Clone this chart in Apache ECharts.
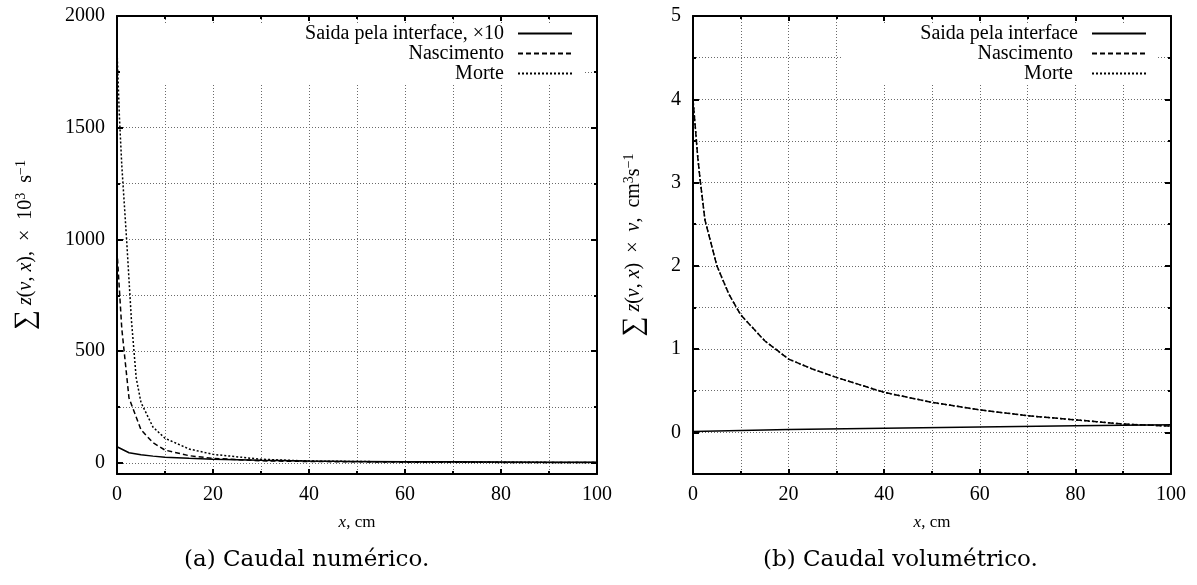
<!DOCTYPE html>
<html><head><meta charset="utf-8">
<script src="https://cdn.jsdelivr.net/npm/echarts@6/dist/echarts.min.js"></script>
<style>html,body{margin:0;padding:0;background:#fff}#c{width:1197px;height:585px}</style>
</head><body><div id="c"></div>
<script>
// ---- data: (a) Caudal numérico ----
const xSaidaA = [0, 2.5, 5, 7.5, 10, 15, 20, 30, 40, 50, 60, 70, 80, 90, 100];
const saidaA  = [72, 45, 36, 30, 25, 20, 16, 11, 8, 6.5, 5.3, 4.5, 3.8, 3, 2.3];
const xNascA  = [0, 1, 2.5, 5, 7.5, 10, 15, 20, 30, 40, 60, 80, 100];
const nascA   = [950, 600, 290, 148, 90, 57, 32, 20, 9, 6, 3, 2, 1.5];
const xMorteA = [0, 0.5, 1, 2, 2.5, 3, 4, 5, 7.5, 10, 15, 20, 30, 40, 60, 80, 100];
const morteA  = [1850, 1550, 1330, 1000, 820, 640, 380, 270, 160, 110, 62, 38, 16, 8, 4, 2.5, 1.5];
// ---- data: (b) Caudal volumétrico ----
const xSaidaB = [0, 20, 40, 60, 80, 100];
const saidaB  = [0.01, 0.035, 0.05, 0.065, 0.078, 0.09];
const xNascB  = [0, 0.5, 1, 1.5, 2.5, 5, 7.5, 10, 15, 20, 25, 30, 40, 50, 60, 70, 80, 90, 100];
const nascB   = [4.0, 3.65, 3.3, 3.03, 2.55, 2.0, 1.66, 1.41, 1.1, 0.88, 0.76, 0.66, 0.48, 0.36, 0.27, 0.2, 0.15, 0.1, 0.075];
const xMorteB = [0, 0.5, 1, 1.5, 2.5, 5, 7.5, 10, 15, 20, 25, 30, 40, 50, 60, 70, 80, 90, 100];
const morteB  = [4.0, 3.65, 3.3, 3.03, 2.55, 2.0, 1.66, 1.41, 1.1, 0.88, 0.76, 0.66, 0.48, 0.36, 0.27, 0.2, 0.15, 0.1, 0.075];
// ---- labels ----
const namesA = ['Saida pela interface, ×10', 'Nascimento', 'Morte'];
const namesB = ['Saida pela interface', 'Nascimento ', 'Morte '];
const xTicks = [0, 20, 40, 60, 80, 100];
const captions = ['(a) Caudal numérico.', '(b) Caudal volumétrico.'];

const pairs = (xs, ys) => xs.map((x, i) => [x, ys[i]]);
const SERIF = "'Liberation Serif', 'DejaVu Serif', serif";
const gridStyle = { color: '#6a6a6a', width: 1, type: [1, 2] };

function xAxisMain(gi) {
  return {
    type: 'value', gridIndex: gi, min: 0, max: 100, interval: 20, position: 'bottom',
    axisLine: { show: true, onZero: false, lineStyle: { color: '#000', width: 2 } },
    axisTick: { show: true, inside: true, length: 5, lineStyle: { color: '#000', width: 2 } },
    minorTick: { show: true, splitNumber: 2, length: 3, lineStyle: { color: '#000', width: 2 } },
    axisLabel: { show: true, margin: 11, color: '#000', fontFamily: SERIF, fontSize: 20,
      formatter: v => (xTicks.indexOf(v) >= 0 ? String(v) : '') },
    splitLine: { show: true, lineStyle: gridStyle },
    minorSplitLine: { show: true, lineStyle: gridStyle },
    name: '{i|x}, cm', nameLocation: 'middle', nameGap: 40,
    nameTextStyle: { color: '#000', fontFamily: SERIF, fontSize: 17,
      rich: { i: { fontStyle: 'italic', fontFamily: SERIF, fontSize: 17, color: '#000' } } }
  };
}
function xAxisMirror(gi) {
  return {
    type: 'value', gridIndex: gi, min: 0, max: 100, interval: 20, position: 'top',
    axisLine: { show: true, onZero: false, lineStyle: { color: '#000', width: 2 } },
    axisTick: { show: true, inside: true, length: 5, lineStyle: { color: '#000', width: 2 } },
    minorTick: { show: true, splitNumber: 2, length: 3, lineStyle: { color: '#000', width: 2 } },
    axisLabel: { show: false }, splitLine: { show: false }
  };
}
function yAxisDef(gi, min, max, pos, labels, fmt, name, gap) {
  const a = {
    type: 'value', gridIndex: gi, min: min, max: max, position: pos, splitNumber: 5,
    axisLine: { show: true, onZero: false, lineStyle: { color: '#000', width: 2 } },
    axisTick: { show: true, inside: true, length: 6, lineStyle: { color: '#000', width: 2 } },
    minorTick: { show: true, splitNumber: 2, length: 3, lineStyle: { color: '#000', width: 2 } },
    axisLabel: { show: labels, margin: 12, color: '#000', fontFamily: SERIF, fontSize: 20, formatter: fmt },
    splitLine: { show: labels, lineStyle: gridStyle },
    minorSplitLine: { show: labels, lineStyle: gridStyle }
  };
  if (name) {
    a.name = name; a.nameLocation = 'middle'; a.nameGap = gap; a.nameRotate = 90;
    a.nameTextStyle = { color: '#000', fontFamily: SERIF, fontSize: 20, lineHeight: 24,
      rich: { i: { fontStyle: 'italic', fontFamily: SERIF, fontSize: 20, lineHeight: 24, color: '#000' },
              s: { fontFamily: SERIF, fontSize: 28, lineHeight: 24, color: '#000' },
              u: { fontFamily: SERIF, fontSize: 14, lineHeight: 24, verticalAlign: 'top', color: '#000' } } };
  }
  return a;
}
const fmtA = v => (v >= 0 && v % 500 === 0 ? String(v) : '');
const fmtB = v => (v >= 0 && Math.abs(v - Math.round(v)) < 1e-9 ? String(Math.round(v)) : '');

function line(name, xi, yi, data, type) {
  return { name: name, type: 'line', xAxisIndex: xi, yAxisIndex: yi, data: data,
    symbol: 'none', showSymbol: false, smooth: false, animation: false,
    lineStyle: { color: '#000', width: 1.5, type: type }, itemStyle: { color: '#000', opacity: 0 } };
}

const legendCommon = {
  orient: 'vertical', align: 'right', padding: 0, itemGap: 0, itemWidth: 54, itemHeight: 10,
  selectedMode: false, itemStyle: { opacity: 0 },
  textStyle: { color: '#000', fontFamily: SERIF, fontSize: 20, lineHeight: 19, padding: [0, 9, 0, 0] }
};

const chart = echarts.init(document.getElementById('c'), null, { renderer: 'canvas' });
chart.setOption({
  backgroundColor: '#fff',
  animation: false,
  grid: [
    { left: 117, top: 16, width: 480, height: 458, containLabel: false },
    { left: 693, top: 16, width: 478, height: 458, containLabel: false }
  ],
  xAxis: [xAxisMain(0), xAxisMirror(0), xAxisMain(1), xAxisMirror(1)],
  yAxis: [
    yAxisDef(0, -50, 2000, 'left', true, fmtA, '{s|∑} {i|z}({i|v}, {i|x}),  ×  10{u|3}  s{u|−1}', 79),
    yAxisDef(0, -50, 2000, 'right', false, fmtA),
    yAxisDef(1, -0.5, 5, 'left', true, fmtB, '{s|∑} {i|z}({i|v}, {i|x})  ×  {i|v},  cm{u|3}s{u|−1}', 47),
    yAxisDef(1, -0.5, 5, 'right', false, fmtB)
  ],
  legend: [
    Object.assign({}, legendCommon, { data: namesA, right: 624, top: 23.5 }),
    Object.assign({}, legendCommon, { data: namesB, right: 50, top: 23.5 })
  ],
  graphic: [
    { type: 'rect', z: 1, shape: { x: 120, y: 23, width: 464, height: 60 }, style: { fill: '#fff' } },
    { type: 'rect', z: 1, shape: { x: 842, y: 23, width: 316, height: 60 }, style: { fill: '#fff' } },
    { type: 'text', left: 311 - 127, top: 549, style: { text: captions[0], font: "23px 'DejaVu Serif', serif", fill: '#000' } },
    { type: 'text', left: 905 - 142, top: 549, style: { text: captions[1], font: "23px 'DejaVu Serif', serif", fill: '#000' } }
  ],
  series: [
    line(namesA[0], 0, 0, pairs(xSaidaA, saidaA), 'solid'),
    line(namesA[1], 0, 0, pairs(xNascA, nascA), [5, 3]),
    line(namesA[2], 0, 0, pairs(xMorteA, morteA), [2, 2]),
    line(namesB[0], 2, 2, pairs(xSaidaB, saidaB), 'solid'),
    line(namesB[1], 2, 2, pairs(xNascB, nascB), [5, 3]),
    line(namesB[2], 2, 2, pairs(xMorteB, morteB), [2, 2])
  ]
});
</script></body></html>
